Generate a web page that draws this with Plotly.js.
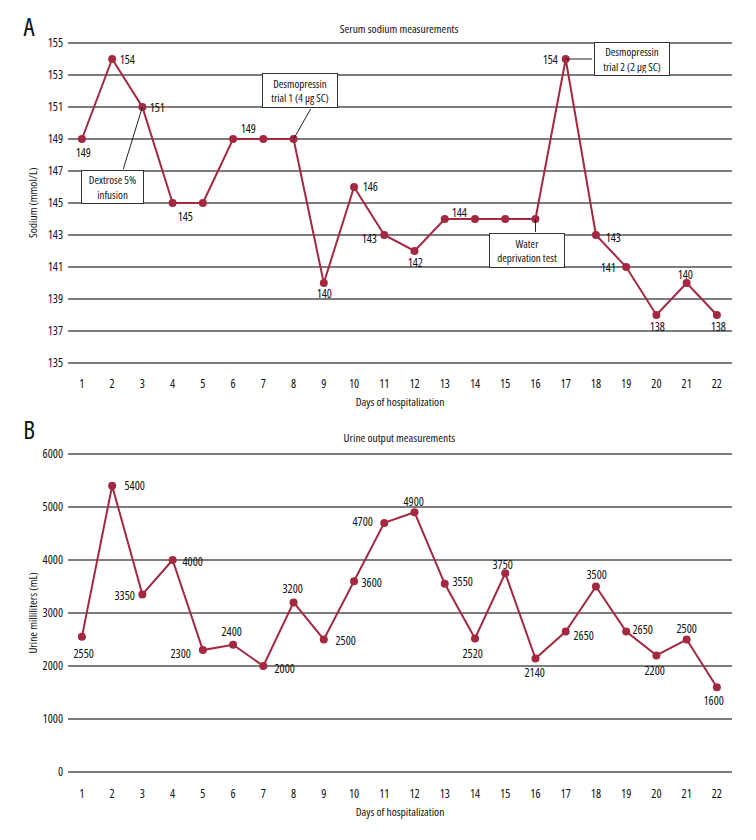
<!DOCTYPE html>
<html>
<head>
<meta charset="utf-8">
<script src="https://cdn.plot.ly/plotly-3.0.1.min.js"></script>
<style>
html,body{margin:0;padding:0;background:#fff;}
#chart{width:756px;height:840px;}
#chart text{font-stretch:75%;}
</style>
</head>
<body>
<div id="chart"></div>
<script>
// ---------------- data ----------------
const days = [1,2,3,4,5,6,7,8,9,10,11,12,13,14,15,16,17,18,19,20,21,22];
const dayLabels = ['1','2','3','4','5','6','7','8','9','10','11','12','13','14','15','16','17','18','19','20','21','22'];
const sodium = [149,154,151,145,145,149,149,149,140,146,143,142,144,144,144,144,154,143,141,138,140,138];
const urine = [2550,5400,3350,4000,2300,2400,2000,3200,2500,3600,4700,4900,3550,2520,3750,2140,2650,3500,2650,2200,2500,1600];
const sodiumTicks = [135,137,139,141,143,145,147,149,151,153,155];
const urineTicks = [0,1000,2000,3000,4000,5000,6000];

const titleA = 'Serum sodium measurements';
const titleB = 'Urine output measurements';
const yTitleA = 'Sodium (mmol/L)';
const yTitleB = 'Urine milliliters (mL)';
const xTitle = 'Days of hospitalization';

// which sodium points carry a value label (index into arrays)
const sodiumLabelIdx = [0,1,2,3,5,8,9,10,11,12,16,17,18,19,20,21];
// label offsets in pixels [dx, dy(down)]
const sodiumLabelOff = [[2,13],[15,0],[15,0],[13,13],[15,-11],[1,10],[16,-1],[-15,3],[1,11],[15,-7],[-15,0],[18,2],[-18,0],[1,11],[-1,-9],[2,11]];

const urineLabelOff = [[2,17],[23,0],[-17,1],[20,1],[-22,3],[-1,-13],[22,2],[-1,-14],[22,1],[18,1],[-21,-1],[-1,-11],[18,-2],[-2,15],[-2,-9],[0,14],[18,4],[1,-12],[17,-2],[-1,15],[0,-11],[-3,13]];

// callouts on the sodium chart
const calloutText = ['Dextrose 5%<br>infusion','Desmopressin<br>trial 1 (4 μg SC)','Water<br>deprivation test','Desmopressin<br>trial 2 (2 μg SC)'];
const calloutIdx = [2,7,15,16];
const calloutBoxOff = [[-29.4,80.3],[6,-48.7],[-8.3,31.8],[65.8,0]];
const calloutBoxSize = [[57,28],[70,29],[70,29],[70,28]];
const calloutLine = [[-19.7,64],[18.2,-32],[0,15],[28,0]];

// ---------------- style ----------------
const FONT = '"Open Sans", "DejaVu Sans Condensed", sans-serif';
const RED = '#a4283f';
const GRID = '#7d7d7d';
const W = 756, H = 840;
const xDom = [68/W, 732/W];
const domA = [1-365/H, 1-41/H];
const domB = [1-774/H, 1-452/H];
const padA = 2/16;
const padB = 2000/53;

const traces = [
  {x: days, y: sodium, xaxis:'x', yaxis:'y', mode:'lines+markers', type:'scatter',
   line:{color:RED, width:2}, marker:{color:RED, size:8}, hoverinfo:'none', cliponaxis:false},
  {x: days, y: urine, xaxis:'x2', yaxis:'y2', mode:'lines+markers', type:'scatter',
   line:{color:RED, width:2}, marker:{color:RED, size:8}, hoverinfo:'none', cliponaxis:false}
];

const annotations = [];
annotations.push({xref:'paper', yref:'paper', x:28.5/W, y:1-25.5/H, text:'A', showarrow:false, xanchor:'center', yanchor:'middle', font:{family:FONT, size:25, color:'#111'}});
annotations.push({xref:'paper', yref:'paper', x:28.5/W, y:1-429/H, text:'B', showarrow:false, xanchor:'center', yanchor:'middle', font:{family:FONT, size:25, color:'#111'}});
annotations.push({xref:'paper', yref:'paper', x:399/W, y:1-28.3/H, text:titleA, showarrow:false, xanchor:'center', yanchor:'middle', font:{family:FONT, size:11.5, color:'#111'}});
annotations.push({xref:'paper', yref:'paper', x:399/W, y:1-437.7/H, text:titleB, showarrow:false, xanchor:'center', yanchor:'middle', font:{family:FONT, size:11.5, color:'#111'}});
annotations.push({xref:'paper', yref:'paper', x:31.7/W, y:(domA[0]+domA[1])/2, text:yTitleA, textangle:-90, showarrow:false, xanchor:'center', yanchor:'middle', font:{family:FONT, size:11.5, color:'#111'}});
annotations.push({xref:'paper', yref:'paper', x:31.7/W, y:(domB[0]+domB[1])/2, text:yTitleB, textangle:-90, showarrow:false, xanchor:'center', yanchor:'middle', font:{family:FONT, size:11.5, color:'#111'}});

sodiumLabelIdx.forEach((i, k) => {
  annotations.push({xref:'x', yref:'y', x:days[i], y:sodium[i], text:String(sodium[i]), showarrow:false,
    xanchor:'center', yanchor:'middle', xshift:sodiumLabelOff[k][0], yshift:-sodiumLabelOff[k][1],
    font:{family:FONT, size:12, color:'#111'}});
});
urine.forEach((v, i) => {
  annotations.push({xref:'x2', yref:'y2', x:days[i], y:v, text:String(v), showarrow:false,
    xanchor:'center', yanchor:'middle', xshift:urineLabelOff[i][0], yshift:-urineLabelOff[i][1],
    font:{family:FONT, size:12, color:'#111'}});
});
calloutIdx.forEach((i, k) => {
  annotations.push({xref:'x', yref:'y', x:days[i], y:sodium[i], text:' ', showarrow:true, arrowhead:0,
    arrowwidth:1, arrowcolor:'#222', ax:calloutLine[k][0], ay:calloutLine[k][1], standoff:0, startstandoff:0,
    font:{size:1}});
  annotations.push({xref:'x', yref:'y', x:days[i], y:sodium[i], text:calloutText[k], showarrow:false,
    xanchor:'center', yanchor:'middle', xshift:calloutBoxOff[k][0], yshift:-calloutBoxOff[k][1],
    width:calloutBoxSize[k][0], height:calloutBoxSize[k][1], align:'center', valign:'middle',
    bgcolor:'#fff', bordercolor:'#333', borderwidth:1, borderpad:2,
    font:{family:FONT, size:11, color:'#111'}});
});

const xCommon = {
  range:[0.54, 22.5], tickvals:days, ticktext:dayLabels, showgrid:false, zeroline:false, showline:false,
  ticks:'', tickfont:{family:FONT, size:12, color:'#111'}, automargin:false, fixedrange:true
};
const yCommon = {
  showgrid:true, gridcolor:GRID, gridwidth:2, zeroline:false, showline:false, ticks:'',
  ticklabelstandoff:4, tickfont:{family:FONT, size:12, color:'#111'}, automargin:false, fixedrange:true
};

const layout = {
  width:W, height:H, margin:{l:0, r:0, t:0, b:0}, paper_bgcolor:'#fff', plot_bgcolor:'rgba(0,0,0,0)',
  showlegend:false, font:{family:FONT, color:'#111'},
  xaxis: Object.assign({}, xCommon, {domain:xDom, anchor:'y', ticklabelstandoff:10,
    title:{text:xTitle, standoff:6, font:{family:FONT, size:11.5}}}),
  yaxis: Object.assign({}, yCommon, {domain:domA, anchor:'x', range:[135-padA,155+padA], tickvals:sodiumTicks}),
  xaxis2: Object.assign({}, xCommon, {domain:xDom, anchor:'y2', ticklabelstandoff:11,
    title:{text:xTitle, standoff:6, font:{family:FONT, size:11.5}}}),
  yaxis2: Object.assign({}, yCommon, {domain:domB, anchor:'x2', range:[0-padB,6000+padB], tickvals:urineTicks}),
  annotations: annotations
};

Plotly.newPlot('chart', traces, layout, {displayModeBar:false, staticPlot:true});
</script>
</body>
</html>
